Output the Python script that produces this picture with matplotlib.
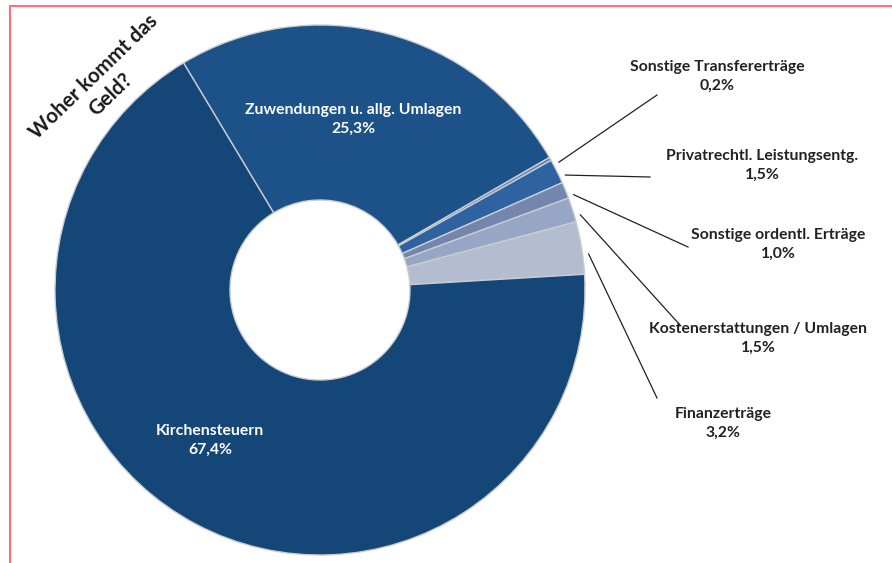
import numpy as np
import matplotlib.pyplot as plt

# data (clockwise from the top)
categories = ['Zuwendungen u. allg. Umlagen', 'Sonstige Transfererträge',
              'Privatrechtl. Leistungsentg.', 'Sonstige ordentl. Erträge',
              'Kostenerstattungen / Umlagen', 'Finanzerträge', 'Kirchensteuern']
shares = [25.3, 0.2, 1.5, 1.0, 1.5, 3.2, 67.4]
colors = ['#1C5288', '#5F82B8', '#2E62A0', '#7485AE', '#96A6C4', '#B4BDD0', '#154678']

plt.rcParams['font.family'] = ['Lato', 'DejaVu Sans']

W, H = 892, 563
fig = plt.figure(figsize=(W / 100, H / 100), dpi=100)
ax = fig.add_axes([0, 0, 1, 1])

cx, cy = 320, H - 290
R = 265
wedges, _ = ax.pie(shares, colors=colors, startangle=121.0, counterclock=False,
                   center=(cx, cy), radius=R,
                   wedgeprops=dict(width=R - 90, edgecolor='#C9CCD2', linewidth=1))
ax.set_xlim(0, W)
ax.set_ylim(0, H)
ax.set_aspect('equal')
ax.axis('off')

def pct(v):
    return f'{v:.1f}'.replace('.', ',') + '%'

fs = 11.3
# labels inside the two big slices
ax.text(353, H - 119, f'{categories[0]}\n{pct(shares[0])}', color='white',
        fontsize=fs, fontweight='bold', ha='center', va='center', linespacing=1.45)
ax.text(210, H - 440, f'{categories[6]}\n{pct(shares[6])}', color='white',
        fontsize=fs, fontweight='bold', ha='center', va='center', linespacing=1.45)

# outside labels with leader lines
label_pos = [(717, 76), (762, 165), (778, 244), (758, 338), (723, 423)]
line_end = [(657, 95), (650, 177), (688, 247), (680, 325), (657, 398)]
for i, w in enumerate(wedges[1:6]):
    ang = np.deg2rad((w.theta1 + w.theta2) / 2 - 1.5)
    x0 = cx + (R + 6) * np.cos(ang)
    y0 = cy + (R + 6) * np.sin(ang)
    ex, ey = line_end[i]
    ax.plot([x0, ex], [y0, H - ey], color='#222222', lw=0.9)
    lx, ly = label_pos[i]
    ax.text(lx, H - ly, f'{categories[i + 1]}\n{pct(shares[i + 1])}', color='#222222',
            fontsize=fs, fontweight='bold', ha='center', va='center', linespacing=1.45)

# rotated title
ax.text(102, H - 86, 'Woher kommt das\nGeld?', rotation=44, fontsize=14.8,
        fontweight='bold', color='#1a1a1a', ha='center', va='center',
        rotation_mode='anchor', linespacing=1.3)

# pink frame (top and left)
ax.plot([10, W], [H - 6, H - 6], color='#FF6F7D', lw=1.5, clip_on=False)
ax.plot([10, 10], [H - 6, 0], color='#FF6F7D', lw=1.5, clip_on=False)

fig.savefig('out.png', dpi=100)
